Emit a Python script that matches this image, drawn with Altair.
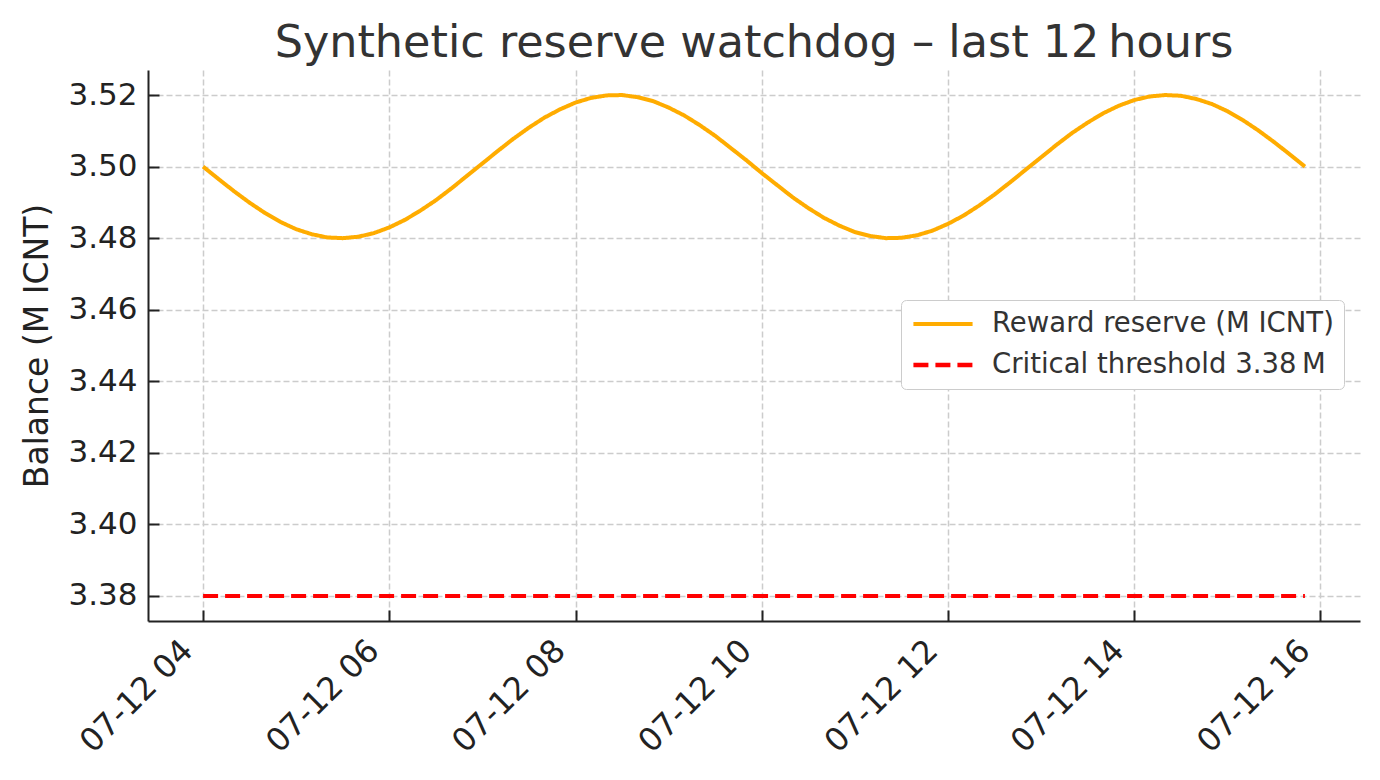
import altair as alt
import pandas as pd

# ---- data ----
times = pd.date_range("2025-07-12 04:00", periods=72, freq="10min")
reserve = [
    3.5000, 3.4965, 3.4931, 3.4899, 3.4870, 3.4845, 3.4825, 3.4811, 3.4802, 3.4800,
    3.4804, 3.4814, 3.4830, 3.4851, 3.4877, 3.4906, 3.4939, 3.4974, 3.5009, 3.5044,
    3.5078, 3.5109, 3.5137, 3.5160, 3.5179, 3.5192, 3.5199, 3.5200, 3.5194, 3.5183,
    3.5165, 3.5143, 3.5116, 3.5086, 3.5052, 3.5018, 3.4982, 3.4948, 3.4914, 3.4884,
    3.4857, 3.4835, 3.4817, 3.4806, 3.4800, 3.4801, 3.4808, 3.4821, 3.4840, 3.4863,
    3.4891, 3.4922, 3.4956, 3.4991, 3.5026, 3.5061, 3.5094, 3.5123, 3.5149, 3.5170,
    3.5186, 3.5196, 3.5200, 3.5198, 3.5189, 3.5175, 3.5155, 3.5130, 3.5101, 3.5069,
    3.5035, 3.5000,
]
threshold = 3.38
series_names = ["Reward reserve (M ICNT)", "Critical threshold 3.38\u202fM"]
series_colors = ["#FFAC00", "#FF0000"]
y_ticks = [3.38, 3.40, 3.42, 3.44, 3.46, 3.48, 3.50, 3.52]
x_tick_hours = [4, 6, 8, 10, 12, 14, 16]

rows = [{"t": t, "value": v, "series": series_names[0]} for t, v in zip(times, reserve)]
rows += [{"t": times[0], "value": threshold, "series": series_names[1]},
         {"t": times[-1], "value": threshold, "series": series_names[1]}]
df = pd.DataFrame(rows)

FONT = "DejaVu Sans"
x_dom = [alt.DateTime(year=2025, month=7, date=12, hours=3, minutes=24, seconds=30),
         alt.DateTime(year=2025, month=7, date=12, hours=16, minutes=25, seconds=30)]
x_vals = [alt.DateTime(year=2025, month=7, date=12, hours=h) for h in x_tick_hours]
x_scale = alt.Scale(domain=x_dom)
y_scale = alt.Scale(domain=[3.373, 3.527], nice=False, zero=False)

legend = alt.Legend(
    orient="none", legendX=753, legendY=230, title=None,
    symbolType="stroke", symbolSize=3500, symbolStrokeWidth=4.5,
    labelFontSize=27.5, labelColor="#333333", labelFont=FONT, labelLimit=600,
    labelOffset=17, rowPadding=13, clipHeight=28, padding=10,
    fillColor="white", strokeColor="#cccccc", cornerRadius=5,
)

main = alt.Chart(df).mark_line(strokeWidth=4).encode(
    x=alt.X("t:T", scale=x_scale, axis=alt.Axis(
        values=x_vals, format="%m-%d %H", labelAngle=-45, labelAlign="right",
        labelBaseline="middle", labelPadding=24, labelOffset=-16,
        labelFontSize=32, labelColor="#222222", labelFont=FONT,
        labelFlush=False, labelOverlap=False, labelBound=False,
        ticks=False, tickSize=0, domainColor="#222222", domainWidth=2,
        grid=True, gridColor="#cccccc", gridDash=[6, 3], gridWidth=1.5,
        title=None)),
    y=alt.Y("value:Q", scale=y_scale, axis=alt.Axis(
        values=y_ticks, format=".2f", labelFontSize=31, labelColor="#222222",
        labelFont=FONT, labelPadding=11, ticks=False, tickSize=0,
        domainColor="#222222", domainWidth=2,
        grid=True, gridColor="#cccccc", gridDash=[6, 3], gridWidth=1.5,
        title="Balance (M ICNT)", titleFontSize=33, titleFont=FONT,
        titleFontWeight="normal", titleColor="#222222", titlePadding=13)),
    color=alt.Color("series:N", scale=alt.Scale(domain=series_names, range=series_colors),
                    legend=legend),
    strokeDash=alt.StrokeDash("series:N",
                              scale=alt.Scale(domain=series_names, range=[[1, 0], [15, 7]]),
                              legend=legend),
    strokeWidth=alt.StrokeWidth("series:N",
                                scale=alt.Scale(domain=series_names, range=[4, 4.5]),
                                legend=None),
)

ticks_layer = alt.Chart(df).mark_line(opacity=0).encode(
    x=alt.X("t:T", scale=x_scale, axis=alt.Axis(
        values=x_vals, labels=False, domain=False, grid=False, ticks=True,
        tickSize=11, tickWidth=2, tickColor="#222222", offset=-11, title=None,
        orient="bottom")),
    y=alt.Y("value:Q", scale=y_scale, axis=alt.Axis(
        values=y_ticks, labels=False, domain=False, grid=False, ticks=True,
        tickSize=11, tickWidth=2, tickColor="#222222", offset=-11, title=None,
        orient="left")),
)

chart = alt.layer(main, ticks_layer).resolve_axis(
    x="independent", y="independent"
).properties(
    width=1212, height=551,
    autosize=alt.AutoSizeParams(type="none"),
    padding={"left": 140, "top": 62, "right": 12, "bottom": 151},
    background="white",
    title=alt.TitleParams(
        "Synthetic reserve watchdog \u2013 last 12\u202fhours",
        fontSize=44.5, font=FONT, fontWeight="normal", color="#333333",
        anchor="middle", offset=10, baseline="bottom", dy=50),
).configure_view(strokeWidth=0)

chart.save("out.html", embed_options={"renderer": "svg", "actions": False})
